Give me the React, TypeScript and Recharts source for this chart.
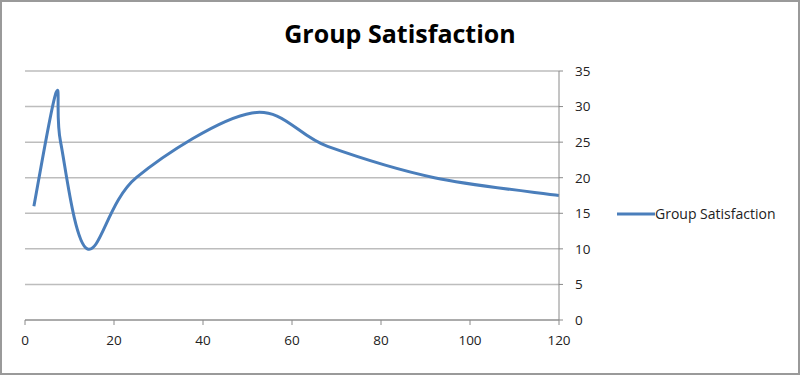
import { LineChart, Line, XAxis, YAxis, CartesianGrid } from "recharts";

const xValues = [2, 7, 8, 14, 25, 51, 68, 92, 120];
const satisfaction = [16, 32, 25, 10, 20, 29.1, 24.4, 20, 17.5];
const xTicks = [0, 20, 40, 60, 80, 100, 120];
const yTicks = [0, 5, 10, 15, 20, 25, 30, 35];

const data = xValues.map((x, i) => ({ x, value: satisfaction[i] }));

const FONT = "'Open Sans', sans-serif";
const BLUE = "#4a7ebb";

// Excel-style smoothed line (Catmull-Rom, control points at 1/6 of neighbour span)
function excelSmooth(context: any) {
    let pts: number[][] = [];
    return {
        areaStart() {},
        areaEnd() {},
        lineStart() {
            pts = [];
        },
        lineEnd() {
            const n = pts.length;
            if (!n) return;
            context.moveTo(pts[0][0], pts[0][1]);
            for (let i = 0; i < n - 1; i++) {
                const p0 = pts[Math.max(i - 1, 0)];
                const p1 = pts[i];
                const p2 = pts[i + 1];
                const p3 = pts[Math.min(i + 2, n - 1)];
                context.bezierCurveTo(
                    p1[0] + (p2[0] - p0[0]) / 6,
                    p1[1] + (p2[1] - p0[1]) / 6,
                    p2[0] - (p3[0] - p1[0]) / 6,
                    p2[1] - (p3[1] - p1[1]) / 6,
                    p2[0],
                    p2[1]
                );
            }
        },
        point(x: number, y: number) {
            pts.push([+x, +y]);
        },
    };
}

export default function App() {
    return (
        <div
            style={{
                position: "absolute",
                left: 0,
                top: 0,
                width: 800,
                height: 375,
                border: "2px solid #9a9a9a",
                boxSizing: "border-box",
                background: "#fff",
            }}
        >
            <div
                style={{
                    position: "absolute",
                    top: 14,
                    left: 0,
                    width: 796,
                    textAlign: "center",
                    fontFamily: FONT,
                    fontWeight: 700,
                    fontSize: 25,
                    color: "#000",
                }}
            >
                Group Satisfaction
            </div>
            <div style={{ position: "absolute", left: -2, top: -2 }}>
                <LineChart
                    width={800}
                    height={375}
                    data={data}
                    margin={{ top: 71, right: 181, bottom: 25, left: 25 }}
                >
                    <CartesianGrid vertical={false} stroke="#bdbdbd" strokeWidth={1.5} />
                    <XAxis
                        dataKey="x"
                        type="number"
                        domain={[0, 120]}
                        ticks={xTicks}
                        interval={0}
                        height={30}
                        stroke="#8a8a8a"
                        tickSize={5}
                        tickMargin={10}
                        tick={{ fill: "#222", fontFamily: FONT, fontSize: 13.5 }}
                    />
                    <YAxis
                        orientation="right"
                        type="number"
                        domain={[0, 35]}
                        ticks={yTicks}
                        interval={0}
                        width={60}
                        stroke="#8a8a8a"
                        tickSize={4}
                        tickMargin={12}
                        tick={{ fill: "#222", fontFamily: FONT, fontSize: 13.5 }}
                    />
                    <Line
                        type={excelSmooth as any}
                        dataKey="value"
                        name="Group Satisfaction"
                        stroke={BLUE}
                        strokeWidth={3}
                        dot={false}
                        activeDot={false}
                        isAnimationActive={false}
                    />
                </LineChart>
            </div>
            <div
                style={{
                    position: "absolute",
                    left: 615,
                    top: 202,
                    display: "flex",
                    alignItems: "center",
                    fontFamily: FONT,
                    fontSize: 14,
                    color: "#222",
                }}
            >
                <svg width={38} height={6}>
                    <line x1={0} y1={3} x2={38} y2={3} stroke={BLUE} strokeWidth={3} />
                </svg>
                <span>Group Satisfaction</span>
            </div>
        </div>
    );
}
